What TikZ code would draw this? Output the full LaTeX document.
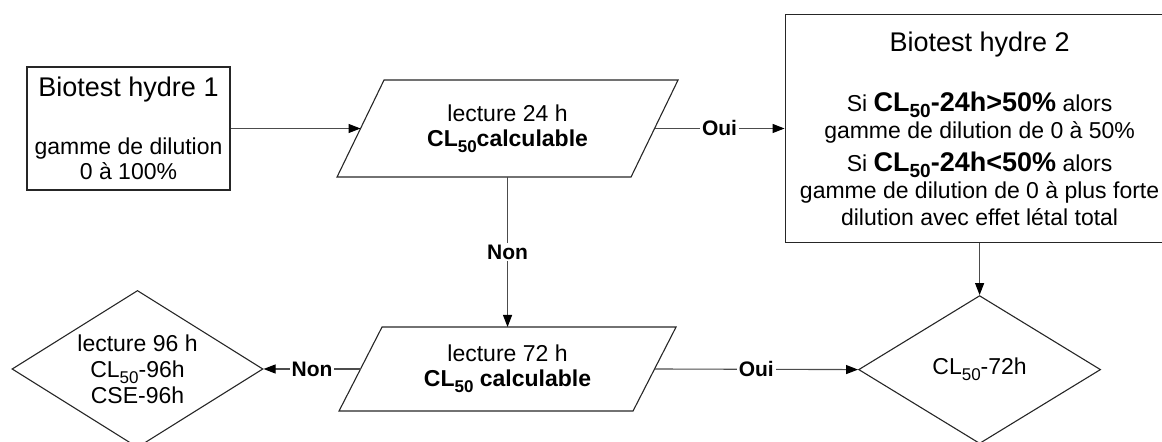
\documentclass[tikz,border=0pt]{standalone}
\usepackage{fontspec}
\setmainfont{Liberation Sans}
\usetikzlibrary{positioning,arrows.meta,shapes.geometric}

% slanted frame round a text node (#1 node, #2 half slant)
\newcommand{\slantframe}[2]{%
  \draw[frame] ([xshift=#2]#1.north west) -- ([xshift=#2]#1.north east)
    -- ([xshift=-#2]#1.south east) -- ([xshift=-#2]#1.south west) -- cycle;}
\newcommand{\bigbold}{\bfseries\fontsize{13.5}{15}\selectfont}
\newcommand{\lowsub}[1]{\raisebox{-0.5ex}{\fontsize{8.5}{9}\selectfont #1}}
\newcommand{\biglowsub}[1]{\raisebox{-0.45ex}{\fontsize{9.5}{10}\selectfont #1}}

\begin{document}
\begin{tikzpicture}[
      x=0.5pt,y=-0.5pt,
      frame/.style={draw=black!85,line width=0.55pt},
      box/.style={rectangle,frame,align=center,inner sep=0pt,
        font=\fontsize{11.5}{12.5}\selectfont},
      para/.style={rectangle,draw=none,outer sep=0pt,align=center,inner sep=0pt,
        minimum width=147pt,font=\fontsize{11.5}{12.5}\selectfont},
      dec/.style={diamond,frame,align=center,inner sep=-4pt,
        font=\fontsize{11.5}{13}\selectfont},
      lbl/.style={fill=white,inner sep=1pt,font=\bfseries\fontsize{10.5}{12}\selectfont},
      link/.style={draw=black!70,line width=0.55pt,
        -{Triangle[length=6pt,width=4.5pt,color=black]}},
    ]
    \useasboundingbox (0,0) rectangle (1162,442);
    \node[box,minimum width=101.5pt,minimum height=61.5pt] (bio1) at (128.5,128.5)
      {{\fontsize{13.5}{15}\selectfont Biotest hydre 1}\\[16.5pt]
       gamme de dilution\\0 à 100\%};
    \node[para,minimum height=48.5pt,right=65pt of bio1] (lect24)
      {lecture 24 h\\\textbf{CL\lowsub{50}calculable}};
    \node[box,minimum width=194.5pt,minimum height=114pt,right=65pt of lect24,
      font=\fontsize{11.5}{13.5}\selectfont] (bio2)
      {{\fontsize{13.5}{15}\selectfont Biotest hydre 2}\\[16.5pt]
       Si {\bigbold CL\biglowsub{50}-24h>50\%} alors\\
       gamme de dilution de 0 à 50\%\\[3pt]
       Si {\bigbold CL\biglowsub{50}-24h<50\%} alors\\
       gamme de dilution de 0 à plus forte\\
       dilution avec effet létal total};
    \node[para,minimum height=42pt,below=75pt of lect24] (lect72)
      {lecture 72 h\\\textbf{CL\lowsub{50} calculable}};
    \node[dec,minimum width=125.5pt,minimum height=74pt,left=48.5pt of lect72] (d96)
      {lecture 96 h\\CL\lowsub{50}-96h\\CSE-96h};
    \node[dec,minimum width=121pt,minimum height=74pt,below=26pt of bio2] (d72)
      {CL\lowsub{50}-72h};
    \slantframe{lect24}{11.75pt}
    \slantframe{lect72}{10.75pt}
    \draw[link] (bio1) -- (lect24.west);
    \draw[link] (lect24.east) -- node[lbl] {Oui} (bio2.west);
    \draw[link] (lect24.south) -- node[lbl] {Non} (lect72.north);
    \draw[link] (lect72.west) -- node[lbl] {Non} (d96.east);
    \draw[link] (lect72.east) -- node[lbl] {Oui} (d72.west);
    \draw[link] (bio2.south) -- (d72.north);
  \end{tikzpicture}
\end{document}
